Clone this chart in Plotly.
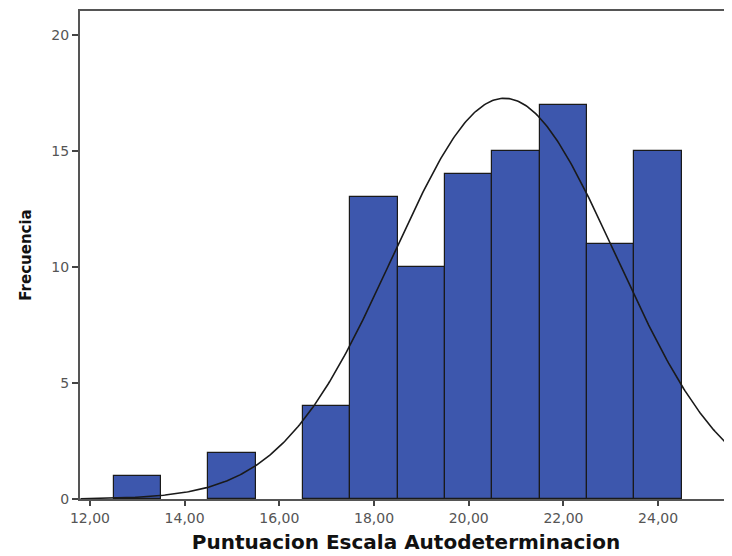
import numpy as np
import plotly.graph_objects as go

bin_centers = [13, 15, 17, 18, 19, 20, 21, 22, 23, 24]
frequencies = [1, 2, 4, 13, 10, 14, 15, 17, 11, 15]
bin_width = 1.0
x_tick_vals = [12, 14, 16, 18, 20, 22, 24]
x_tick_text = ["12,00", "14,00", "16,00", "18,00", "20,00", "22,00", "24,00"]
y_tick_vals = [0, 5, 10, 15, 20]

# Normal curve fitted from the histogram's own mean and standard deviation
xc = np.array(bin_centers, dtype=float)
fq = np.array(frequencies, dtype=float)
n = fq.sum()
mean = (xc * fq).sum() / n
sd = np.sqrt(((xc - mean) ** 2 * fq).sum() / (n - 1))
xs = np.linspace(11.8, 25.8, 400)
ys = n * bin_width / (sd * np.sqrt(2 * np.pi)) * np.exp(-0.5 * ((xs - mean) / sd) ** 2)

fig = go.Figure()
fig.add_trace(go.Bar(
    x=bin_centers, y=frequencies, width=bin_width,
    marker=dict(color="#3D57AD", line=dict(color="#1a1a1a", width=1.2)),
    showlegend=False, hoverinfo="x+y",
))
fig.add_trace(go.Scatter(
    x=xs, y=ys, mode="lines",
    line=dict(color="#1a1a1a", width=1.6),
    showlegend=False, hoverinfo="skip", cliponaxis=True,
))

fig.update_layout(
    width=724, height=548,
    margin=dict(l=72, r=0, t=3, b=57),
    plot_bgcolor="white", paper_bgcolor="white",
    bargap=0,
    font=dict(family="DejaVu Sans, sans-serif"),
)
fig.update_xaxes(
    range=[11.79, 25.56],
    tickvals=x_tick_vals, ticktext=x_tick_text,
    ticks="outside", ticklen=5, tickwidth=1.5, tickcolor="#444",
    tickfont=dict(size=14, color="#555"),
    showgrid=False, zeroline=False,
    showline=True, linecolor="#555", linewidth=2, mirror=True,
    title=dict(text="<b>Puntuacion Escala Autodeterminacion</b>",
               font=dict(size=20, color="#111"), standoff=10),
)
fig.update_yaxes(
    range=[0, 21.03],
    tickvals=y_tick_vals,
    ticks="outside", ticklen=6, tickwidth=1.5, tickcolor="#444",
    tickfont=dict(size=14, color="#555"),
    showgrid=False, zeroline=False,
    showline=True, linecolor="#555", linewidth=2, mirror=False,
    title=dict(text="<b>Frecuencia</b>", font=dict(size=15, color="#111"), standoff=16),
)

fig.write_html("out.html")
